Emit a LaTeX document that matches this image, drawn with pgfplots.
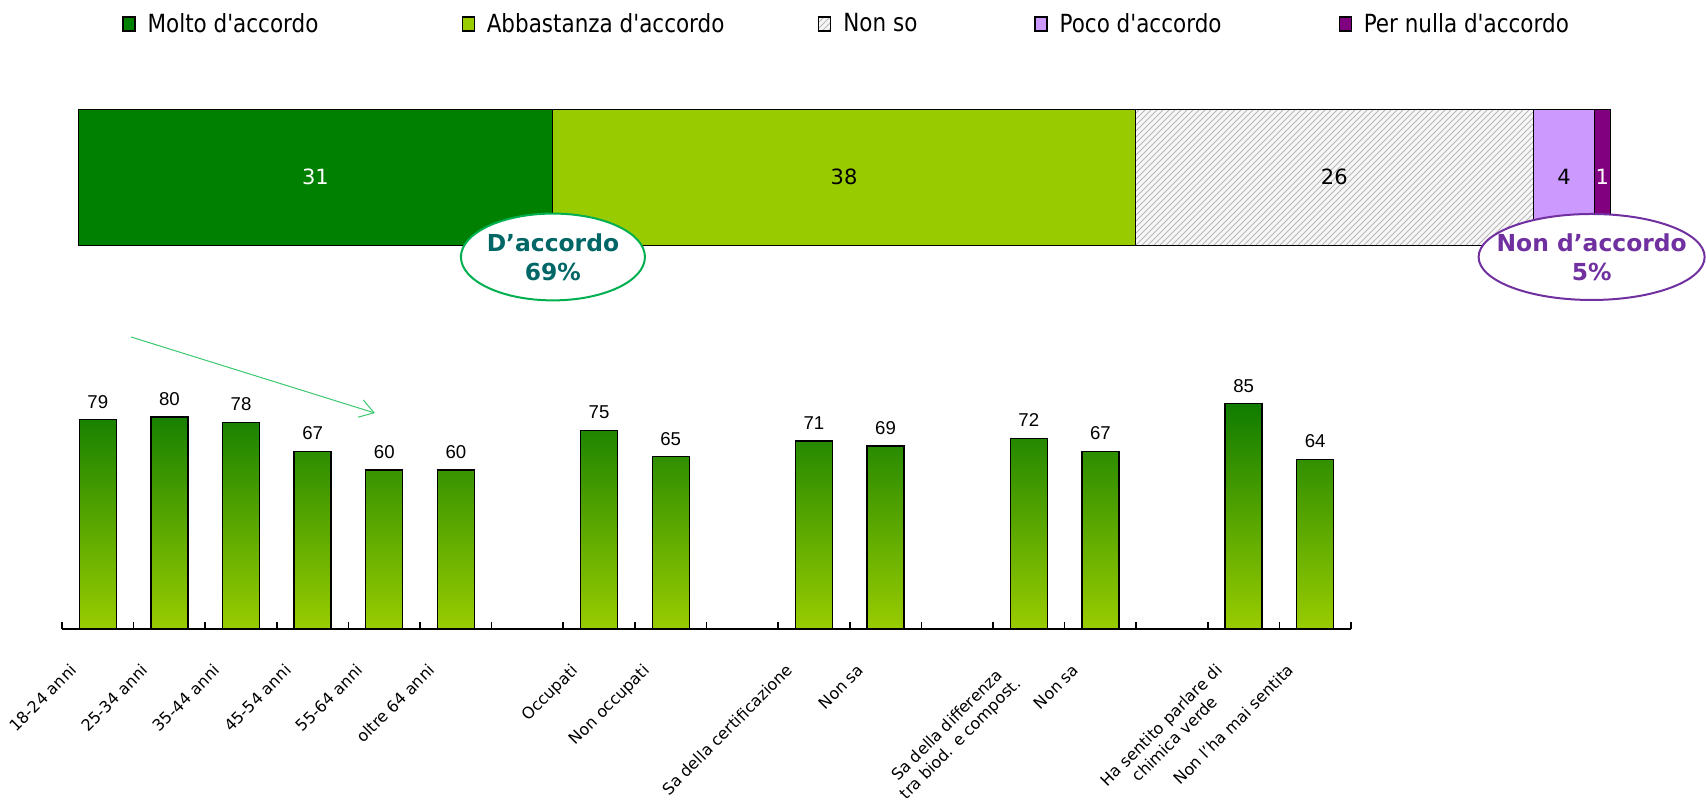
\documentclass[border=0pt]{standalone}
\usepackage{fontspec}
\setmainfont{DejaVu Sans}
\newfontfamily\legfont{DejaVu Sans}[FakeStretch=0.86]
\newfontfamily\arialfont{Liberation Sans}
\usepackage{pgfplots}
\pgfplotsset{compat=1.18}
\usetikzlibrary{patterns,arrows.meta}

\definecolor{molto}{RGB}{0,128,0}
\definecolor{abbastanza}{RGB}{153,204,0}
\definecolor{poco}{RGB}{204,153,255}
\definecolor{pernulla}{RGB}{128,0,128}
\definecolor{barTop}{RGB}{16,124,0}
\definecolor{barBot}{RGB}{153,204,0}
\definecolor{okGreen}{RGB}{0,176,80}
\definecolor{okText}{RGB}{0,102,102}
\definecolor{noPurple}{RGB}{112,48,160}
\definecolor{arrowGreen}{RGB}{60,200,110}

\begin{document}
\begin{tikzpicture}
\useasboundingbox (0pt,0pt) rectangle (853pt,-402.5pt);

% overall answer: one stacked bar
\begin{axis}[
  at={(39pt,-122.5pt)}, anchor=south west,
  scale only axis, width=766pt, height=68pt,
  xbar stacked, bar width=1,
  xmin=0, xmax=100, ymin=-0.5, ymax=0.5,
  axis lines=none, clip=false,
  point meta=rawx,
  nodes near coords,
  /pgf/number format/assume math mode=true,
  every node near coord/.append style={anchor=center,
    font=\fontsize{10.5}{12}\selectfont},
  legend image code/.code={\draw[#1,draw=black,line width=0.6pt] (0pt,-3.5pt) rectangle (6pt,3.5pt);},
  legend style={draw=none, fill=none, inner sep=0pt,
    at={(0.0287,1.625)}, anchor=west, legend columns=-1,
    font=\legfont\fontsize{12.5}{14}\selectfont,
    /tikz/every even column/.append style={column sep=0pt}},
]
\addplot[fill=molto, draw=black, line width=0.5pt,
  every node near coord/.append style={text=white}] coordinates {(31,0)};
\addlegendentry{\makebox[159pt][l]{\hspace{4pt}Molto d'accordo}}
\addplot[fill=abbastanza, draw=black, line width=0.5pt] coordinates {(38,0)};
\addlegendentry{\makebox[167.7pt][l]{\hspace{4pt}Abbastanza d'accordo}}
\addplot[preaction={fill=gray!6}, pattern=north east lines, pattern color=gray!55,
  draw=black, line width=0.5pt] coordinates {(26,0)};
\addlegendentry{\makebox[97.5pt][l]{\hspace{4pt}Non so}}
\addplot[fill=poco, draw=black, line width=0.5pt] coordinates {(4,0)};
\addlegendentry{\makebox[141.5pt][l]{\hspace{4pt}Poco d'accordo}}
\addplot[fill=pernulla, draw=black, line width=0.5pt,
  every node near coord/.append style={text=white}] coordinates {(1,0)};
\addlegendentry{\hspace{4pt}Per nulla d'accordo}

\coordinate (okc) at (axis cs:31,-0.588);
\coordinate (noc) at (axis cs:98.8,-0.588);
\end{axis}

% callouts drawn over the bar
\draw[okGreen, line width=1pt, fill=white] (okc) ellipse [x radius=46pt, y radius=21.7pt];
\node[align=center, text=okText, inner sep=0pt,
  font=\bfseries\fontsize{11.7}{14.5}\selectfont] at (okc) {D’accordo\\69\%};
\draw[noPurple, line width=1pt, fill=white] (noc) ellipse [x radius=56.5pt, y radius=21.5pt];
\node[align=center, text=noPurple, inner sep=0pt,
  font=\bfseries\fontsize{11.7}{14.5}\selectfont] at (noc) {Non d’accordo\\5\%};

% share "d'accordo" by group
\begin{axis}[
  at={(31pt,-314.5pt)}, anchor=south west,
  scale only axis, width=644.5pt, height=132.5pt,
  ybar, bar width=18.5pt,
  xmin=-0.5, xmax=17.5, ymin=0, ymax=100,
  axis x line*=bottom, axis y line=none,
  axis line style={line width=1pt},
  xtick={-0.5,0.5,...,17.5}, xticklabels={},
  tick align=inside, major tick length=3.5pt,
  tick style={black, line width=0.8pt},
  extra x ticks={0,1,2,3,4,5,7,8,10,11,13,14,16,17},
  extra x tick labels={{18-24 anni},{25-34 anni},{35-44 anni},{45-54 anni},{55-64 anni},{oltre 64 anni},
    {Occupati},{Non occupati},{Sa della certificazione},{Non sa},
    {Sa della differenza\\tra biod. e compost.},{Non sa},
    {Ha sentito parlare di\\chimica verde},{Non l'ha mai sentita}},
  extra x tick style={major tick length=0pt},
  xticklabel style={font=\fontsize{8}{9.5}\selectfont, align=center,
    xshift=-14.5pt, yshift=-12pt, rotate=45, anchor=north east},
  clip=false,
  nodes near coords,
  /pgf/number format/assume math mode=true,
  every node near coord/.append style={font=\arialfont\fontsize{9.3}{11}\selectfont,
    text=black, yshift=2pt},
]
\addplot[draw=black, line width=0.7pt, top color=barTop, bottom color=barBot]
  coordinates {(0,79) (1,80) (2,78) (3,67) (4,60) (5,60)
               (7,75) (8,65) (10,71) (11,69) (13,72) (14,67) (16,85) (17,64)};
\draw[arrowGreen, line width=0.5pt, -{Straight Barb[length=7pt,width=9pt]}]
  (axis cs:0.464,110.2) -- (axis cs:3.87,81.5);
\end{axis}
\end{tikzpicture}
\end{document}
